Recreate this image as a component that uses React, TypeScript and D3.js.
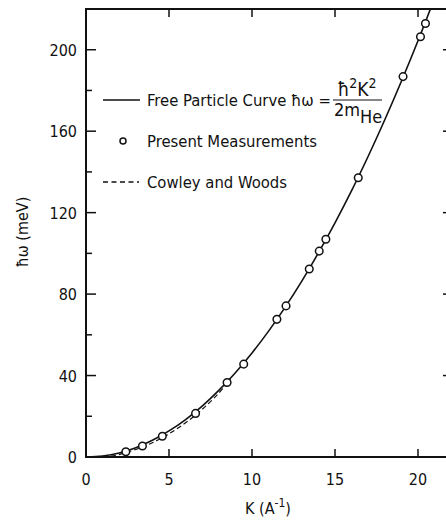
import React, { useEffect, useRef } from "react";
import * as d3 from "d3";

// measured points (K in 1/A, energy in meV)
const measK = [2.4, 3.4, 4.6, 6.6, 8.5, 9.5, 11.5, 12.05, 13.45, 14.05, 14.45, 16.4, 19.1, 20.15, 20.45];
const measE = [2.6, 5.4, 10.2, 21.4, 36.6, 45.6, 67.6, 74.2, 92.3, 101.1, 106.9, 137.1, 186.8, 206.4, 212.9];

// free particle curve
const freeK = [0, 1, 2, 3, 4, 5, 6, 7, 8, 9, 10, 11, 12, 13, 14, 15, 16, 17, 18, 19, 20, 21, 22];
const freeE = [0, 0.5, 2.0, 4.6, 8.2, 12.8, 18.4, 25.0, 32.7, 41.4, 51.1, 61.8, 73.6, 86.4, 100.2, 115.0, 130.8, 147.7, 165.6, 184.5, 204.4, 225.4, 247.4];

// Cowley and Woods (dashed), sits a little under the free curve at low K
const cwK = [1.5, 2, 3, 4, 5, 6, 7, 8, 8.7];
const cwE = [0.4, 1.2, 3.7, 7.0, 11.4, 16.8, 23.4, 31.4, 38.2];

const xTicks = [0, 5, 10, 15, 20];
const yTicks = [0, 40, 80, 120, 160, 200];
const yMinor = [20, 60, 100, 140, 180];

const FONT = "'Liberation Sans Narrow', 'DejaVu Sans Condensed', 'Roboto Condensed', sans-serif";

const App = () => {
  const svgRef = useRef<SVGSVGElement | null>(null);

  useEffect(() => {
    const svg = d3.select(svgRef.current);
    svg.selectAll("*").remove();

    const width = 446,
      height = 521;
    const left = 86,
      right = 451,
      top = 9,
      bottom = 457;

    const x = d3.scaleLinear().domain([0, 22]).range([left, left + 22 * 16.6]);
    const y = d3.scaleLinear().domain([0, 220]).range([bottom, top]);

    svg.attr("width", width).attr("height", height);
    svg.append("rect").attr("width", width).attr("height", height).attr("fill", "#fff");

    svg
      .append("clipPath")
      .attr("id", "plotclip")
      .append("rect")
      .attr("x", left)
      .attr("y", top)
      .attr("width", right - left)
      .attr("height", bottom - top);

    const plot = svg.append("g").attr("clip-path", "url(#plotclip)");

    const line = d3
      .line<[number, number]>()
      .x((d) => x(d[0]))
      .y((d) => y(d[1]))
      .curve(d3.curveCatmullRom);

    plot
      .append("path")
      .attr("d", line(cwK.map((k, i) => [k, cwE[i]] as [number, number])))
      .attr("fill", "none")
      .attr("stroke", "#111")
      .attr("stroke-width", 1.2)
      .attr("stroke-dasharray", "5,3");

    plot
      .append("path")
      .attr("d", line(freeK.map((k, i) => [k, freeE[i]] as [number, number])))
      .attr("fill", "none")
      .attr("stroke", "#111")
      .attr("stroke-width", 1.6);

    plot
      .selectAll("circle.meas")
      .data(measK.map((k, i) => [k, measE[i]]))
      .join("circle")
      .attr("class", "meas")
      .attr("cx", (d) => x(d[0]))
      .attr("cy", (d) => y(d[1]))
      .attr("r", 3.8)
      .attr("fill", "#fff")
      .attr("stroke", "#111")
      .attr("stroke-width", 1.5);

    // frame
    const ax = svg.append("g").attr("stroke", "#111").attr("stroke-width", 2).attr("fill", "none");
    ax.append("line").attr("x1", left).attr("x2", left).attr("y1", top).attr("y2", bottom + 1);
    ax.append("line").attr("x1", left - 1).attr("x2", right).attr("y1", bottom).attr("y2", bottom);
    ax.append("line").attr("x1", left - 1).attr("x2", right).attr("y1", top).attr("y2", top);
    ax.append("line").attr("x1", right).attr("x2", right).attr("y1", top).attr("y2", bottom);

    const tk = svg.append("g").attr("stroke", "#111").attr("stroke-width", 1.5);
    xTicks.slice(1).forEach((t) => {
      tk.append("line").attr("x1", x(t)).attr("x2", x(t)).attr("y1", bottom).attr("y2", bottom - 8);
      tk.append("line").attr("x1", x(t)).attr("x2", x(t)).attr("y1", top).attr("y2", top + 8);
    });
    yTicks.slice(1).forEach((t) => {
      tk.append("line").attr("x1", left).attr("x2", left + 10).attr("y1", y(t)).attr("y2", y(t));
      tk.append("line").attr("x1", right).attr("x2", right - 8).attr("y1", y(t)).attr("y2", y(t));
    });
    yMinor.forEach((t) => {
      tk.append("line").attr("x1", left).attr("x2", left + 6).attr("y1", y(t)).attr("y2", y(t));
      tk.append("line").attr("x1", right).attr("x2", right - 5).attr("y1", y(t)).attr("y2", y(t));
    });

    const txt = svg.append("g").attr("font-family", FONT).attr("fill", "#111");

    txt
      .selectAll("text.xt")
      .data(xTicks)
      .join("text")
      .attr("class", "xt")
      .attr("x", (d) => x(d))
      .attr("y", 485)
      .attr("text-anchor", "middle")
      .attr("font-size", 16)
      .text((d) => d);

    txt
      .selectAll("text.yt")
      .data(yTicks)
      .join("text")
      .attr("class", "yt")
      .attr("x", 77)
      .attr("y", (d) => y(d) + 6)
      .attr("text-anchor", "end")
      .attr("font-size", 16)
      .text((d) => d);

    // axis titles
    const xl = txt.append("text").attr("x", 268).attr("y", 514).attr("text-anchor", "middle").attr("font-size", 16);
    xl.append("tspan").text("K (A");
    xl.append("tspan").attr("dy", -7).attr("font-size", 12).text("-1");
    xl.append("tspan").attr("dy", 7).text(")");

    txt
      .append("text")
      .attr("transform", "translate(28,232) rotate(-90)")
      .attr("text-anchor", "middle")
      .attr("font-size", 16)
      .text("ħω (meV)");

    // legend
    const lg = svg.append("g");
    lg.append("line").attr("x1", 103).attr("x2", 140).attr("y1", 100).attr("y2", 100).attr("stroke", "#111").attr("stroke-width", 1.5);
    lg.append("circle").attr("cx", 123).attr("cy", 141).attr("r", 3).attr("fill", "#fff").attr("stroke", "#111").attr("stroke-width", 1.5);
    lg.append("line")
      .attr("x1", 103)
      .attr("x2", 139)
      .attr("y1", 182)
      .attr("y2", 182)
      .attr("stroke", "#111")
      .attr("stroke-width", 1.5)
      .attr("stroke-dasharray", "5,3.5");

    const lt = lg.append("g").attr("font-family", FONT).attr("font-size", 16.5).attr("fill", "#111");
    lt.append("text").attr("x", 147).attr("y", 106).text("Free Particle Curve ħω =");
    lt.append("text").attr("x", 147).attr("y", 147).text("Present Measurements");
    lt.append("text").attr("x", 147).attr("y", 188).text("Cowley and Woods");

    const num = lt.append("text").attr("x", 357).attr("y", 96).attr("text-anchor", "middle").attr("font-size", 19);
    num.append("tspan").text("ħ");
    num.append("tspan").attr("dy", -8).attr("font-size", 14).text("2");
    num.append("tspan").attr("dy", 8).text("K");
    num.append("tspan").attr("dy", -8).attr("font-size", 14).text("2");
    lg.append("line").attr("x1", 333).attr("x2", 382).attr("y1", 100).attr("y2", 100).attr("stroke", "#111").attr("stroke-width", 1.2);
    const den = lt.append("text").attr("x", 334).attr("y", 116).attr("font-size", 18);
    den.append("tspan").text("2m");
    den.append("tspan").attr("dy", 7).text("He");
  }, []);

  return <svg ref={svgRef} style={{ position: "absolute", left: 0, top: 0 }} />;
};

export default App;
